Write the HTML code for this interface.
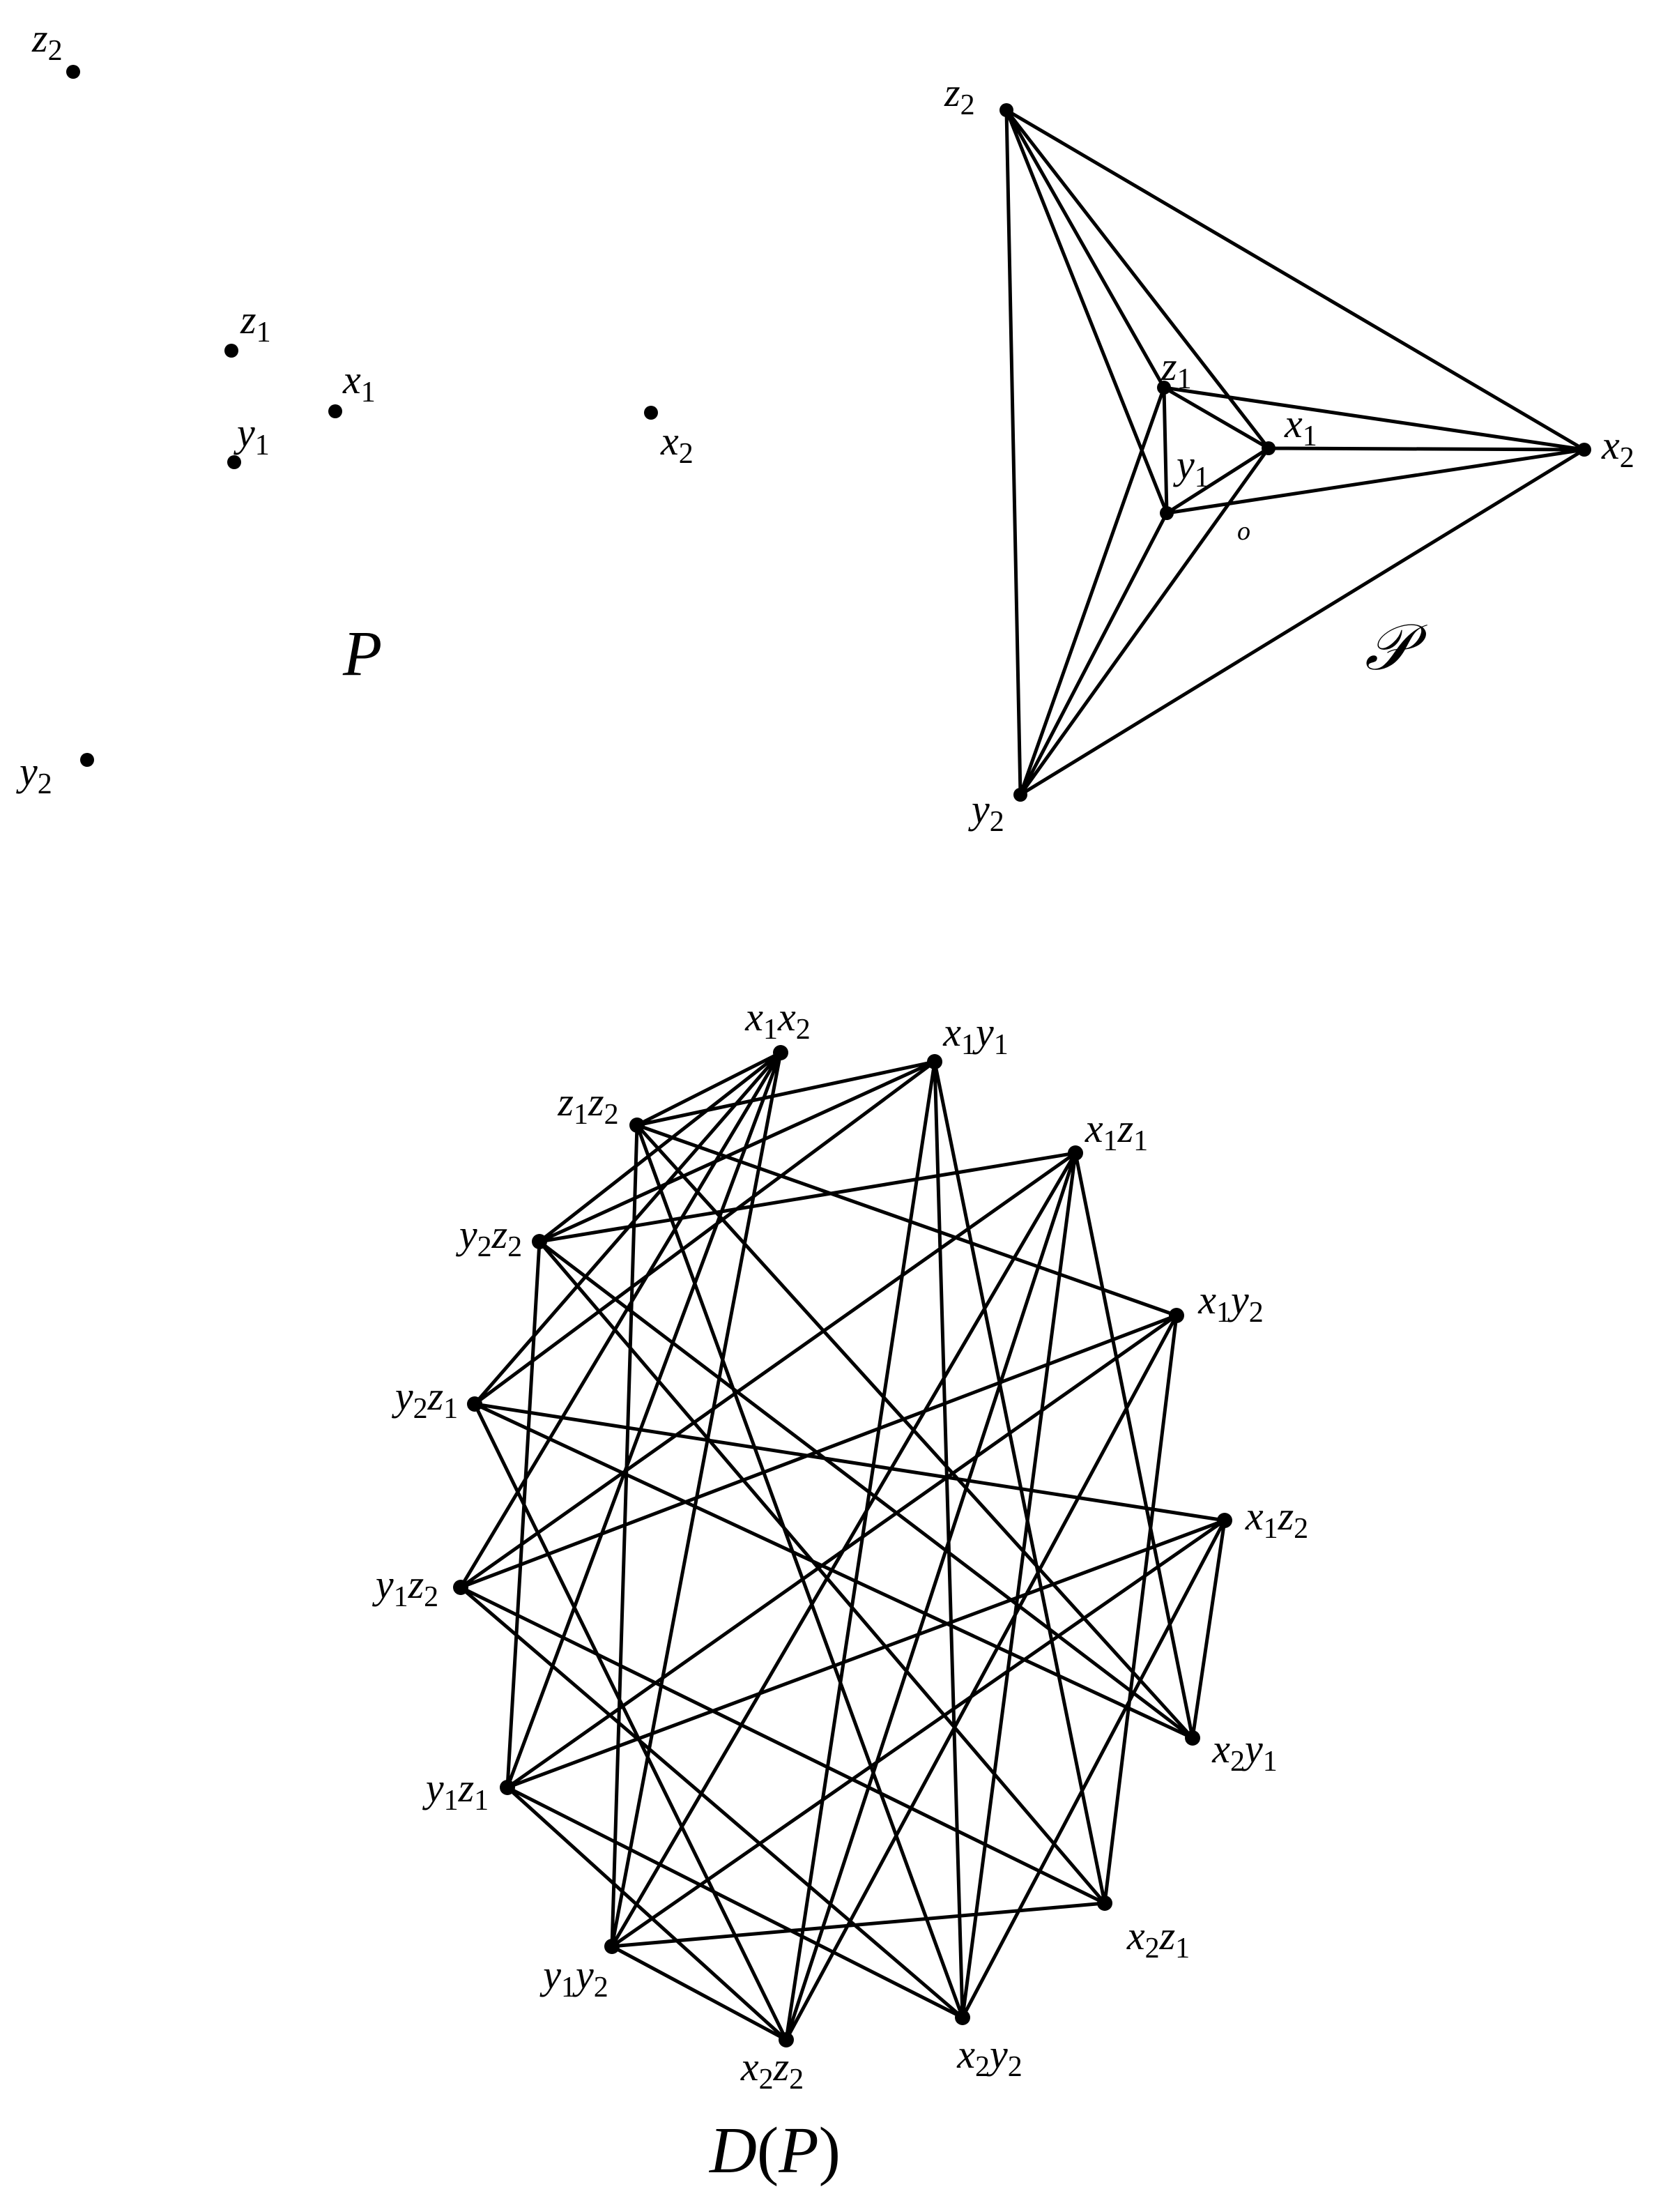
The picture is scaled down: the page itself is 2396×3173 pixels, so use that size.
<!DOCTYPE html>
<html><head><meta charset="utf-8"><style>
html,body{margin:0;padding:0;background:#fff}
svg{display:block}
text{font-family:"Liberation Serif",serif;font-style:italic;font-size:58px;fill:#000}
.s{font-style:normal;font-size:42px}
</style></head><body>
<svg width="2396" height="3173" viewBox="0 0 2396 3173" xmlns="http://www.w3.org/2000/svg">
<g fill="#000">
<circle cx="105" cy="103" r="10"/><circle cx="332" cy="503" r="10"/><circle cx="481" cy="590" r="10"/>
<circle cx="336" cy="663" r="10"/><circle cx="934" cy="592" r="10"/><circle cx="125" cy="1090" r="10"/>
</g>
<text x="46" y="74">z<tspan class="s" dy="12">2</tspan></text>
<text x="345" y="478">z<tspan class="s" dy="12">1</tspan></text>
<text x="492" y="564">x<tspan class="s" dy="12">1</tspan></text>
<text x="340" y="640">y<tspan class="s" dy="12">1</tspan></text>
<text x="948" y="652">x<tspan class="s" dy="12">2</tspan></text>
<text x="28" y="1126">y<tspan class="s" dy="12">2</tspan></text>
<text x="492" y="968" style="font-size:92px">P</text>

<g stroke="#000" stroke-width="5" fill="none">
<path d="M1444 158L2273 645L1464 1140Z M1670 556L1820 643L1674 736Z
M1444 158L1670 556 M1444 158L1820 643 M1444 158L1674 736
M2273 645L1670 556 M2273 645L1820 643 M2273 645L1674 736
M1464 1140L1670 556 M1464 1140L1820 643 M1464 1140L1674 736"/>
</g>
<g fill="#000">
<circle cx="1444" cy="158" r="10"/><circle cx="1670" cy="556" r="10"/><circle cx="1820" cy="643" r="10"/>
<circle cx="1674" cy="736" r="10"/><circle cx="2273" cy="645" r="10"/><circle cx="1464" cy="1140" r="10"/>
</g>
<text x="1355" y="152">z<tspan class="s" dy="12">2</tspan></text>
<text x="1666" y="545">z<tspan class="s" dy="12">1</tspan></text>
<text x="1843" y="627">x<tspan class="s" dy="12">1</tspan></text>
<text x="1688" y="686">y<tspan class="s" dy="12">1</tspan></text>
<text x="2298" y="658">x<tspan class="s" dy="12">2</tspan></text>
<text x="1394" y="1180">y<tspan class="s" dy="12">2</tspan></text>
<text x="1775" y="774" style="font-size:38px">o</text>
<text x="1958" y="960" style="font-size:92px;font-family:'DejaVu Serif',serif">𝒫</text>

<g stroke="#000" stroke-width="5" fill="none">
<path d="
M1120 1510L878 2792 M1120 1510L728 2564 M1120 1510L661 2277 M1120 1510L681 2014 M1120 1510L774 1781 M1120 1510L914 1614
M1341 1523L1381 2894 M1341 1523L1585 2730 M1341 1523L1128 2926 M1341 1523L681 2014 M1341 1523L774 1781 M1341 1523L914 1614
M1688 1887L1585 2730 M1688 1887L1128 2926 M1688 1887L728 2564 M1688 1887L661 2277 M1688 1887L914 1614
M1543 1654L1711 2493 M1543 1654L1381 2894 M1543 1654L1128 2926 M1543 1654L878 2792 M1543 1654L661 2277 M1543 1654L774 1781
M1757 2181L1711 2493 M1757 2181L1381 2894 M1757 2181L878 2792 M1757 2181L728 2564 M1757 2181L681 2014
M1711 2493L681 2014 M1711 2493L774 1781 M1711 2493L914 1614
M1381 2894L728 2564 M1381 2894L661 2277 M1381 2894L914 1614
M1585 2730L878 2792 M1585 2730L661 2277 M1585 2730L774 1781
M1128 2926L878 2792 M1128 2926L728 2564 M1128 2926L681 2014
M878 2792L914 1614
M728 2564L774 1781"/>
</g>
<g fill="#000">
<circle cx="1120" cy="1510" r="11"/><circle cx="1341" cy="1523" r="11"/><circle cx="1543" cy="1654" r="11"/>
<circle cx="1688" cy="1887" r="11"/><circle cx="1757" cy="2181" r="11"/><circle cx="1711" cy="2493" r="11"/>
<circle cx="1585" cy="2730" r="11"/><circle cx="1381" cy="2894" r="11"/><circle cx="1128" cy="2926" r="11"/>
<circle cx="878" cy="2792" r="11"/><circle cx="728" cy="2564" r="11"/><circle cx="661" cy="2277" r="11"/>
<circle cx="681" cy="2014" r="11"/><circle cx="774" cy="1781" r="11"/><circle cx="914" cy="1614" r="11"/>
</g>
<g text-anchor="middle">
<text x="1116" y="1478">x<tspan class="s" dy="12">1</tspan><tspan dy="-12">x</tspan><tspan class="s" dy="12">2</tspan></text>
<text x="1400" y="1500">x<tspan class="s" dy="12">1</tspan><tspan dy="-12">y</tspan><tspan class="s" dy="12">1</tspan></text>
<text x="1602" y="1638">x<tspan class="s" dy="12">1</tspan><tspan dy="-12">z</tspan><tspan class="s" dy="12">1</tspan></text>
<text x="1766" y="1884">x<tspan class="s" dy="12">1</tspan><tspan dy="-12">y</tspan><tspan class="s" dy="12">2</tspan></text>
<text x="1832" y="2194">x<tspan class="s" dy="12">1</tspan><tspan dy="-12">z</tspan><tspan class="s" dy="12">2</tspan></text>
<text x="1786" y="2528">x<tspan class="s" dy="12">2</tspan><tspan dy="-12">y</tspan><tspan class="s" dy="12">1</tspan></text>
<text x="1662" y="2796">x<tspan class="s" dy="12">2</tspan><tspan dy="-12">z</tspan><tspan class="s" dy="12">1</tspan></text>
<text x="1420" y="2966">x<tspan class="s" dy="12">2</tspan><tspan dy="-12">y</tspan><tspan class="s" dy="12">2</tspan></text>
<text x="1108" y="2984">x<tspan class="s" dy="12">2</tspan><tspan dy="-12">z</tspan><tspan class="s" dy="12">2</tspan></text>
<text x="826" y="2852">y<tspan class="s" dy="12">1</tspan><tspan dy="-12">y</tspan><tspan class="s" dy="12">2</tspan></text>
<text x="656" y="2584">y<tspan class="s" dy="12">1</tspan><tspan dy="-12">z</tspan><tspan class="s" dy="12">1</tspan></text>
<text x="584" y="2292">y<tspan class="s" dy="12">1</tspan><tspan dy="-12">z</tspan><tspan class="s" dy="12">2</tspan></text>
<text x="612" y="2022">y<tspan class="s" dy="12">2</tspan><tspan dy="-12">z</tspan><tspan class="s" dy="12">1</tspan></text>
<text x="704" y="1790">y<tspan class="s" dy="12">2</tspan><tspan dy="-12">z</tspan><tspan class="s" dy="12">2</tspan></text>
<text x="844" y="1600">z<tspan class="s" dy="12">1</tspan><tspan dy="-12">z</tspan><tspan class="s" dy="12">2</tspan></text>
<text x="1112" y="3116" style="font-size:94px">D<tspan style="font-style:normal">(</tspan>P<tspan style="font-style:normal">)</tspan></text>
</g>
</svg>
</body></html>
